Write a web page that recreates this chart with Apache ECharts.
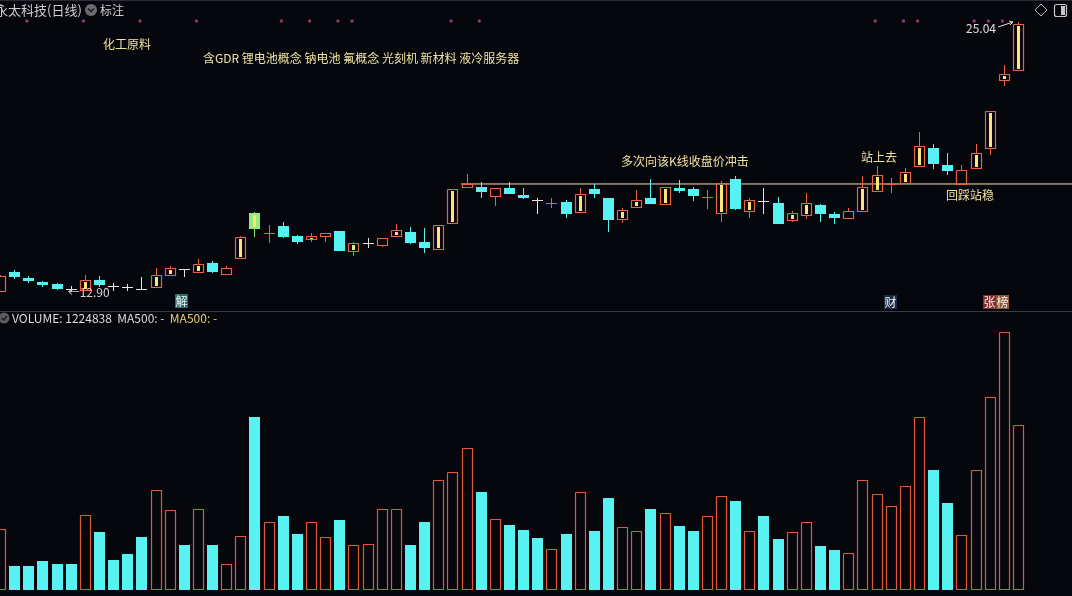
<!DOCTYPE html>
<html><head><meta charset="utf-8">
<script src="https://cdn.jsdelivr.net/npm/echarts/dist/echarts.min.js"></script>
<style>html,body{margin:0;padding:0;background:#06060d;overflow:hidden}#c{width:1072px;height:596px}</style>
</head><body><div id="c"></div>
<script>
// ---- data (永太科技 日线) ----
const opens = [12.92,13.76,13.49,13.31,13.22,12.98,12.93,13.40,13.13,13.08,
  12.99,13.08,13.62,13.89,13.76,14.16,13.67,14.39,16.42,15.51,
  15.83,15.38,15.25,15.38,15.61,14.71,15.07,14.98,15.38,15.56,
  15.11,14.80,15.97,17.59,17.59,17.19,17.55,17.23,17.01,16.86,
  16.92,16.47,17.50,17.10,16.15,16.69,17.10,16.83,17.55,17.50,
  17.13,16.42,17.95,16.51,16.96,16.87,16.10,16.33,16.78,16.37,
  16.19,16.51,17.41,17.73,17.77,18.54,19.35,18.59,17.73,18.45,
  19.35,22.42,22.87];
const closes = [13.58,13.53,13.35,13.17,12.99,12.98,13.40,13.17,13.13,13.08,
  12.99,13.62,13.94,13.89,14.12,13.76,13.94,15.34,15.70,15.52,
  15.34,15.11,15.38,15.52,14.71,15.07,15.07,15.29,15.65,15.07,
  14.84,15.88,17.50,17.73,17.37,17.55,17.28,17.10,17.01,16.87,
  16.37,17.28,17.28,16.10,16.56,17.01,16.83,17.59,17.41,17.19,
  17.14,17.77,16.60,17.01,16.96,15.92,16.42,16.87,16.37,16.19,
  16.51,17.59,18.14,17.77,18.27,19.44,18.63,18.32,18.36,19.13,
  21.02,22.69,24.96];
const highs = [13.60,13.85,13.58,13.35,13.26,13.13,13.62,13.58,13.26,13.22,
  13.53,13.94,14.03,13.89,14.34,14.25,14.03,15.38,16.47,15.88,
  16.01,15.43,15.52,15.52,15.61,15.11,15.29,15.29,15.92,15.79,
  15.74,15.88,17.50,18.18,17.82,17.55,17.82,17.55,17.10,17.10,
  17.01,17.55,17.73,17.10,16.65,17.46,17.95,17.59,17.91,17.59,
  17.46,17.86,18.09,17.10,17.55,17.14,16.51,17.32,16.83,16.47,
  16.65,18.09,18.54,18.00,18.45,20.08,19.53,19.13,18.59,19.53,
  21.02,23.10,25.04];
const lows = [12.92,13.44,13.26,13.08,12.95,12.90,12.92,13.08,12.95,12.95,
  12.99,13.08,13.58,13.58,13.71,13.71,13.67,14.34,15.34,15.11,
  15.29,15.02,15.11,15.11,14.71,14.48,14.89,14.89,15.34,15.02,
  14.62,14.80,15.92,17.55,17.10,16.74,17.28,17.05,16.42,16.69,
  16.19,16.47,17.10,15.56,15.97,16.69,16.83,16.83,17.32,16.96,
  16.65,16.01,16.56,16.19,16.42,15.92,16.01,16.15,16.01,15.92,
  16.19,16.51,17.41,17.37,17.77,18.54,18.41,18.14,17.73,18.45,
  19.04,22.15,22.87];
const volumes = [452800,178200,178200,215300,193000,193000,556700,430500,222700,267200,
  393400,742300,593800,334000,601300,334000,193000,400800,1284200,504800,
  549300,415700,504800,393400,519600,334000,341500,601300,601300,334000,
  504800,816500,875900,1054100,727500,527000,482500,445400,386000,304300,
  415700,727500,438000,682900,467600,438000,601300,571600,475100,438000,
  549300,697800,660600,438000,549300,378600,430500,504800,326600,296900,
  274700,816500,712600,623500,772000,1284200,890800,645800,408300,890800,
  1432600,1915100,1224838];
const stripeDays = [6,11,12,14,17,18,22,25,28,31,32,41,44,45,47,51,53,56,57,61,62,64,65,69,70,71,72];
const specialDays = [18];
const dotDays = [2,6,10,14,20,22,24,25,32,34,62,64,65,69,70,71];
const resistancePrice = 17.73;
const resistanceFrom = 33;
const titleText = '永太科技(日线)';
const industryText = '化工原料';
const conceptText = '含GDR 锂电池概念 钠电池 氟概念 光刻机 新材料 液冷服务器';
const notes = ['多次向该K线收盘价冲击', '站上去', '回踩站稳'];

// ---- styles ----
const UP = '#ea6240', DOWN = '#58f2f2', DOJI = '#e4e4e4', STRIPE = '#ffe47c', SPECIAL = '#92ec7a';
const VOL_UP = '#e05a38';
const NOTE = '#efe3a0', FONT = '"Noto Sans CJK SC","Noto Sans",sans-serif';
const X_MAX = 75.82, P_MIN = 12.042, P_MAX = 26.033, V_MAX = 1930000;

const n = closes.length;
const candleData = [], volData = [];
for (let i = 0; i < n; i++) {
  candleData.push([i, opens[i], closes[i], lows[i], highs[i],
    stripeDays.includes(i) ? 1 : 0, specialDays.includes(i) ? 1 : 0]);
  let up;
  if (closes[i] > opens[i]) up = 1; else if (closes[i] < opens[i]) up = 0;
  else up = (i > 0 && closes[i] >= closes[i - 1]) ? 1 : 0;
  volData.push([i, volumes[i], up]);
}

function ln(x1, y1, x2, y2, col) {
  return {type: 'line', shape: {x1: x1, y1: y1, x2: x2, y2: y2}, style: {stroke: col, lineWidth: 1, fill: null}};
}
function box(l, t, r, b, col) {
  return {type: 'polyline', shape: {points: [[l, t], [r, t], [r, b], [l, b], [l, t]]},
    style: {stroke: col, lineWidth: 1.2, fill: null}};
}
function fillRect(x, y, w, h, col) {
  return {type: 'rect', shape: {x: x, y: y, width: w, height: h}, style: {fill: col, stroke: null, lineWidth: 0}};
}

function candleItem(params, api) {
  const i = api.value(0), o = api.value(1), c = api.value(2), l = api.value(3), h = api.value(4);
  const stripe = api.value(5), special = api.value(6);
  const step = api.size([1, 0])[0];
  const w = Math.round(step * 0.76);
  const pO = api.coord([i, o]), pC = api.coord([i, c]);
  const yH = Math.round(api.coord([i, h])[1]), yL = Math.round(api.coord([i, l])[1]);
  const cx = Math.round(pO[0]);
  const xm = cx + 0.5, left = cx - Math.floor(w / 2);
  const kids = [];
  const top = Math.round(Math.min(pO[1], pC[1])), bot = Math.round(Math.max(pO[1], pC[1]));
  if (Math.abs(pO[1] - pC[1]) < 1.5) {
    const col = (o === c) ? DOJI : (c > o ? UP : DOWN);
    const ym = Math.round((pO[1] + pC[1]) / 2) + 0.5;
    kids.push(ln(xm, yH, xm, yL + 1, col));
    kids.push(ln(left, ym, left + w, ym, col));
  } else if (c > o && !special) {
    if (yH < top) kids.push(ln(xm, yH, xm, top, UP));
    if (yL > bot) kids.push(ln(xm, bot + 1, xm, yL, UP));
    kids.push(box(left + 0.5, top + 0.5, left + w - 0.5, bot + 0.5, UP));
    if (stripe) kids.push(fillRect(cx - 1, top + 2, 3, Math.max(1, bot - top - 3), STRIPE));
  } else {
    const col = special ? SPECIAL : DOWN;
    kids.push(ln(xm, yH, xm, yL, col));
    kids.push(fillRect(left, top, w, Math.max(1, bot - top), col));
    if (stripe) kids.push(fillRect(cx - 1, top + 2, 3, Math.max(1, bot - top - 4), STRIPE));
  }
  return {type: 'group', children: kids};
}

function volItem(params, api) {
  const i = api.value(0), v = api.value(1), up = api.value(2);
  const step = api.size([1, 0])[0];
  const w = Math.round(step * 0.78);
  const p = api.coord([i, v]), b = api.coord([i, 0]);
  const cx = Math.round(p[0]);
  const left = cx - Math.floor(w / 2);
  const top = Math.round(p[1]), bot = Math.round(b[1]);
  if (up) return {type: 'group', children: [box(left + 0.5, top + 0.5, left + w - 0.5, bot - 0.5, VOL_UP)]};
  return {type: 'group', children: [fillRect(left, top, w, bot - top, DOWN)]};
}

const chart = echarts.init(document.getElementById('c'), null, {renderer: 'canvas'});
const minLow = Math.min(...lows), minIdx = lows.indexOf(minLow);
const maxHigh = Math.max(...highs), maxIdx = highs.indexOf(maxHigh);

const option = {
  backgroundColor: '#06060d',
  animation: false,
  grid: [
    {left: 0, width: 1072, top: 0, height: 310},
    {left: 0, width: 1072, top: 330, height: 260}
  ],
  xAxis: [
    {type: 'value', gridIndex: 0, min: 0, max: X_MAX, show: false},
    {type: 'value', gridIndex: 1, min: 0, max: X_MAX, show: false}
  ],
  yAxis: [
    {type: 'value', gridIndex: 0, min: P_MIN, max: P_MAX, show: false, splitLine: {show: false}},
    {type: 'value', gridIndex: 1, min: 0, max: V_MAX, show: false, splitLine: {show: false}}
  ],
  series: [
    {type: 'line', xAxisIndex: 0, yAxisIndex: 0, data: [[resistanceFrom - 0.4, resistancePrice], [X_MAX, resistancePrice]],
      symbol: 'none', lineStyle: {color: '#f2e6b2', width: 1}, silent: true, z: 1},
    {type: 'custom', xAxisIndex: 0, yAxisIndex: 0, data: candleData, renderItem: candleItem,
      encode: {x: 0, y: [1, 2, 3, 4]}, z: 2, silent: true},
    {type: 'custom', xAxisIndex: 1, yAxisIndex: 1, data: volData, renderItem: volItem,
      encode: {x: 0, y: 1}, z: 2, silent: true},
    {type: 'scatter', xAxisIndex: 0, yAxisIndex: 0, data: dotDays.map(d => [d - 0.1, 25.08]),
      symbol: 'circle', symbolSize: 3.5, itemStyle: {color: '#a4468c'}, silent: true}
  ]
};
chart.setOption(option);

const pLow = chart.convertToPixel({gridIndex: 0}, [minIdx, minLow]);
const pHigh = chart.convertToPixel({gridIndex: 0}, [maxIdx, maxHigh]);

function txt(text, x, y, color, size, align) {
  return {type: 'text', x: x, y: y, z: 100, style: {text: text, fill: color, font: (size || 12) + 'px ' + FONT, align: align || 'left', verticalAlign: 'middle'}};
}
function badge(text, x, y, bg) {
  return {type: 'group', x: x, y: y, z: 100, children: [
    {type: 'rect', shape: {x: 0, y: 0, width: 13, height: 14}, style: {fill: bg}},
    {type: 'text', x: 6.5, y: 7, style: {text: text, fill: '#f2f2f2', font: '12px ' + FONT, align: 'center', verticalAlign: 'middle'}}
  ]};
}

const g = [
  {type: 'line', shape: {x1: 0, y1: 0.5, x2: 1072, y2: 0.5}, style: {stroke: '#2c2c34', lineWidth: 1}},
  {type: 'line', shape: {x1: 0, y1: 311.5, x2: 1072, y2: 311.5}, style: {stroke: '#3a3a44', lineWidth: 1}},
  txt(titleText, -5, 10, '#cfcfcf', 13),
  {type: 'circle', shape: {cx: 91, cy: 10, r: 6}, style: {fill: '#6c6c70'}},
  {type: 'polyline', shape: {points: [[88, 8.5], [91, 11.5], [94, 8.5]]}, style: {stroke: '#1a1a1a', lineWidth: 1.5, fill: null}},
  txt('标注', 100, 10, '#cfcfcf', 12),
  {type: 'polygon', shape: {points: [[1041, 4], [1047, 10], [1041, 16], [1035, 10]]}, style: {stroke: '#b8b8b8', fill: null, lineWidth: 1}},
  {type: 'rect', shape: {x: 1054.5, y: 4.5, width: 12, height: 12, r: 2}, style: {stroke: '#c8c8c8', fill: null, lineWidth: 1.2}},
  {type: 'rect', shape: {x: 1061, y: 6, width: 4, height: 9}, style: {fill: '#c8c8c8'}},
  txt(industryText, 103, 44, NOTE, 12),
  txt(conceptText, 203, 58, NOTE, 12),
  txt(notes[0], 621, 161, NOTE, 12),
  txt(notes[1], 861, 157, NOTE, 12),
  txt(notes[2], 946, 195, NOTE, 12),
  txt('\u2190' + minLow.toFixed(2), pLow[0] - 3, pLow[1] + 1, '#d4d4d4', 12),
  txt(maxHigh.toFixed(2), pHigh[0] - 22, pHigh[1] + 6, '#e0e0e0', 12, 'right'),
  {type: 'line', shape: {x1: pHigh[0] - 20, y1: pHigh[1] + 5, x2: pHigh[0] - 5, y2: pHigh[1]}, style: {stroke: '#e0e0e0', lineWidth: 1}},
  {type: 'polyline', shape: {points: [[pHigh[0] - 9, pHigh[1] - 1], [pHigh[0] - 5, pHigh[1]], [pHigh[0] - 8, pHigh[1] + 3]]}, style: {stroke: '#e0e0e0', lineWidth: 1, fill: null}},
  badge('解', 175, 294, '#2a6b6e'),
  badge('财', 884, 295, '#1c2a48'),
  badge('张', 983, 295, '#8a2a2a'),
  badge('榜', 996, 295, '#8a5633'),
  {type: 'circle', shape: {cx: 4, cy: 318, r: 5.5}, style: {fill: '#5c5c60'}},
  {type: 'polyline', shape: {points: [[1.5, 318], [3.5, 320], [7, 316]]}, style: {stroke: '#1a1a1a', lineWidth: 1.3, fill: null}},
  {type: 'text', x: 12, y: 318, z: 100, style: {
    text: '{w|VOLUME: ' + volumes[n - 1] + '  MA500: -  }{y|MA500: -}',
    font: '12px ' + FONT, verticalAlign: 'middle',
    rich: {w: {fill: '#dcdcdc', font: '12px ' + FONT}, y: {fill: '#e6cf76', font: '12px ' + FONT}}
  }}
];
chart.setOption({graphic: g});
</script>
</body></html>
